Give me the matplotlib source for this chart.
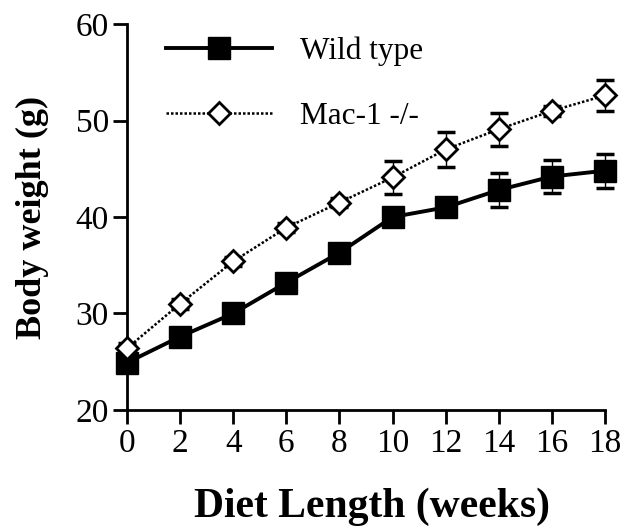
import numpy as np
import matplotlib
matplotlib.use('Agg')
from matplotlib import pyplot as plt

plt.rcParams['font.family'] = ['Liberation Serif', 'DejaVu Serif']

weeks = [0, 2, 4, 6, 8, 10, 12, 14, 16, 18]
wild_type = [24.9, 27.6, 30.0, 33.2, 36.3, 40.0, 41.0, 42.8, 44.2, 44.8]
wild_err = [0.6, 0.6, 0.6, 0.6, 0.7, 0.9, 0.9, 1.75, 1.75, 1.75]
mac1 = [26.4, 31.0, 35.4, 38.9, 41.5, 44.1, 47.0, 49.1, 51.0, 52.6]
mac1_err = [0.5, 0.5, 0.5, 0.5, 0.5, 1.75, 1.8, 1.7, 0.5, 1.65]

fig = plt.figure(figsize=(6.24, 5.29), dpi=100)
ax = fig.add_axes([0.2035, 0.225, 0.766, 0.7295])

# error bars first, markers on top
ax.errorbar(weeks, wild_type, yerr=wild_err, fmt='none', ecolor='black',
            elinewidth=1.0, capsize=6.5, capthick=2.5, zorder=2, clip_on=False)
ax.errorbar(weeks, mac1, yerr=mac1_err, fmt='none', ecolor='black',
            elinewidth=1.0, capsize=6.5, capthick=2.5, zorder=2, clip_on=False)

ax.plot(weeks, wild_type, color='black', lw=2.8, marker='s', ms=16.5,
        mfc='black', mec='black', label='Wild type', zorder=4, clip_on=False)
ax.plot(weeks, mac1, color='black', lw=1.8, ls=(0, (1, 0.8)), marker='D', ms=11.5,
        mfc='white', mec='black', mew=2.0, label='Mac-1 -/-', zorder=5, clip_on=False)

ax.set_xlim(0, 18)
ax.set_ylim(20, 60)
ax.set_xticks(weeks)
ax.set_yticks([20, 30, 40, 50, 60])

for side in ['top', 'right']:
    ax.spines[side].set_visible(False)
for side in ['left', 'bottom']:
    ax.spines[side].set_linewidth(2.0)
ax.tick_params(direction='out', length=10, width=2.0, labelsize=24, pad=3)

ax.set_xlabel('Diet Length (weeks)', fontsize=30, fontweight='bold')
ax.xaxis.set_label_coords(0.513, -0.2)
ax.set_ylabel('Body weight (g)', fontsize=26, fontweight='bold', labelpad=19)

ax.legend(loc='upper left', bbox_to_anchor=(0.022, 1.04), frameon=False,
          fontsize=22.5, handlelength=3.4, handletextpad=0.9, labelspacing=1.15)

fig.savefig('out.png', dpi=100)
